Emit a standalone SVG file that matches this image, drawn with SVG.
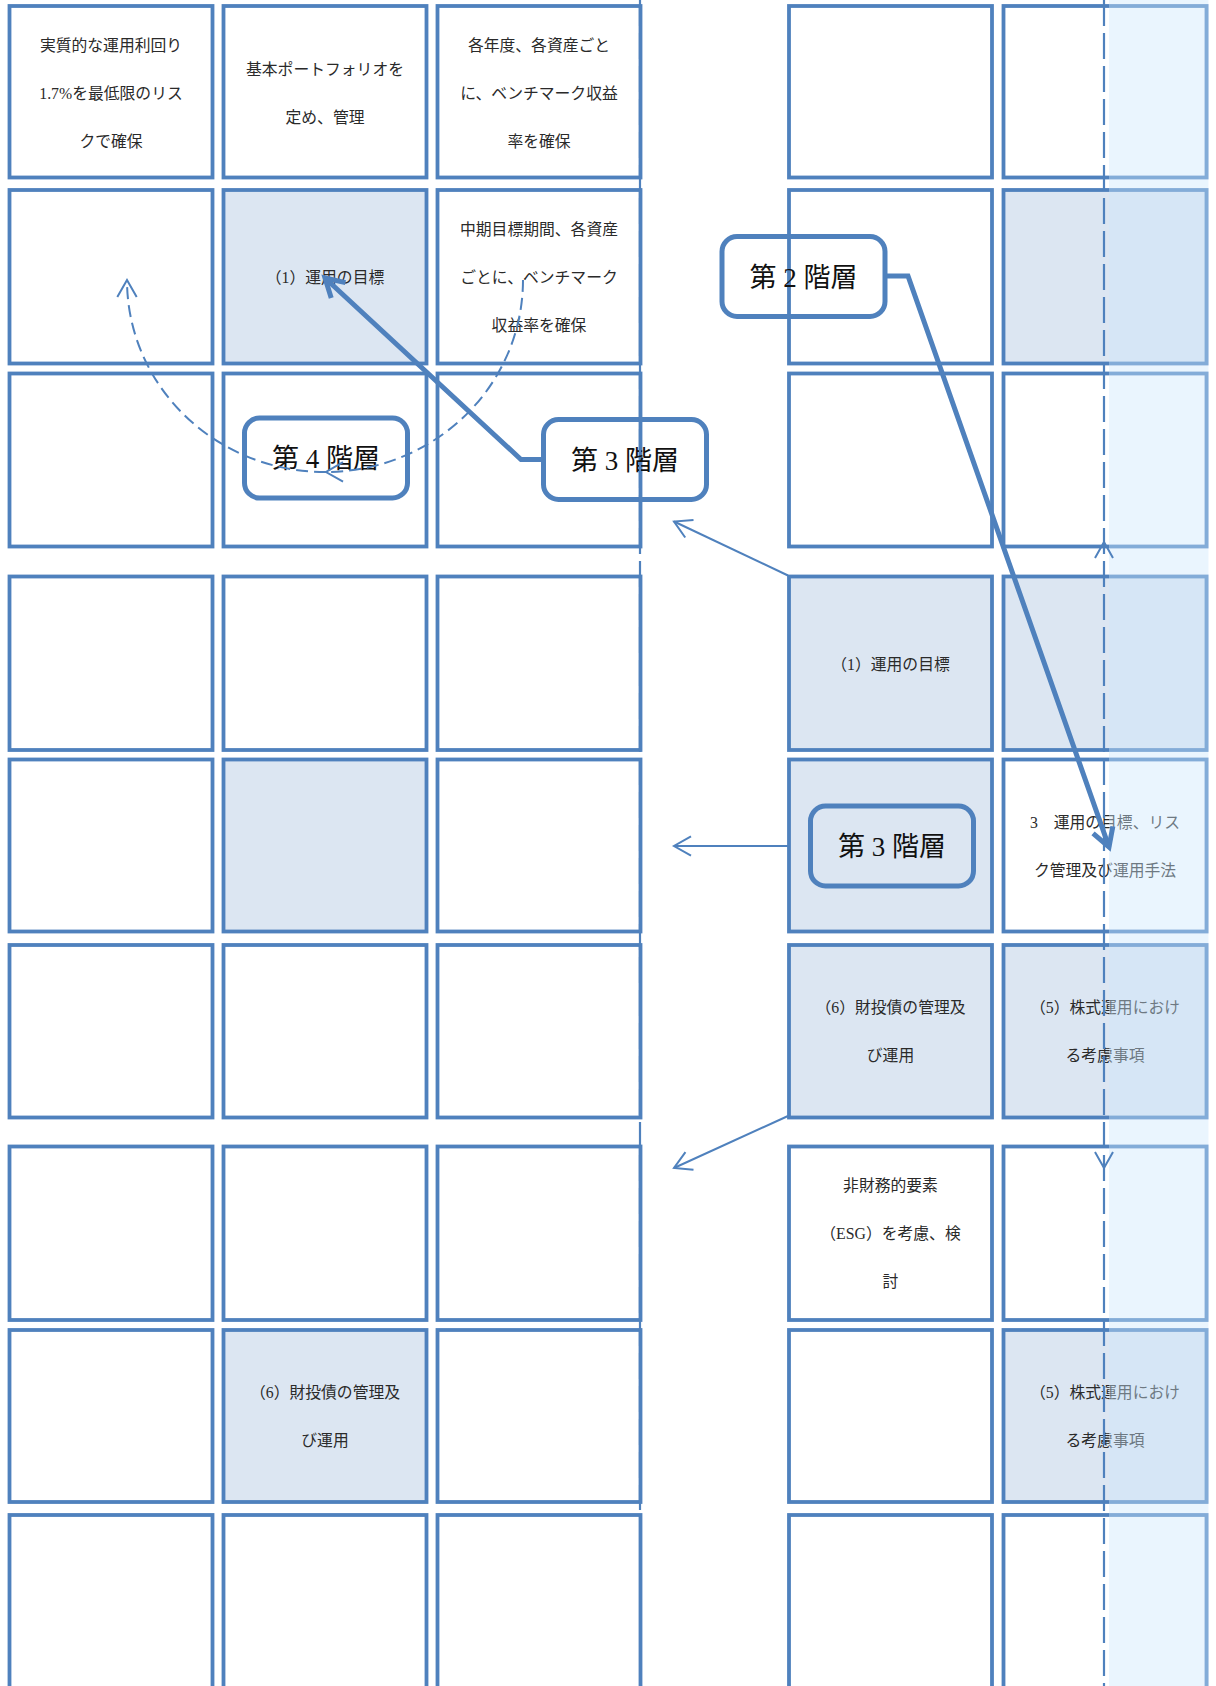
<svg xmlns="http://www.w3.org/2000/svg" width="1216" height="1686" viewBox="0 0 1216 1686">
<style>
.box{fill:#ffffff;stroke:#4F81BD;stroke-width:3.8}
.hl{fill:#DCE6F2}
.t{font-family:"Liberation Serif","Noto Sans CJK JP",serif;font-size:15.8px;fill:#2a2a2a;text-anchor:middle}
.co{fill:none;stroke:#4F81BD;stroke-width:5}
.ct{font-family:"Liberation Serif","Noto Sans CJK JP",serif;font-size:27px;fill:#111111;text-anchor:middle}
.thick{fill:none;stroke:#4F81BD;stroke-width:5}
.thin{fill:none;stroke:#4F81BD;stroke-width:2}
.dash{fill:none;stroke:#4F81BD;stroke-width:2;stroke-dasharray:12 6}
.vdash{fill:none;stroke:#4F81BD;stroke-width:2.2;stroke-dasharray:26 7}
.head{fill:none;stroke:#4F81BD;stroke-width:2}
</style>
<defs>
<marker id="ahThick" markerUnits="userSpaceOnUse" viewBox="-25 -15 30 30" markerWidth="30" markerHeight="30" refX="0" refY="0" orient="auto" overflow="visible">
<path d="M-18.2,-10.5 L0,0 L-18.2,10.5" fill="none" stroke="#4F81BD" stroke-width="5" stroke-dasharray="none"/>
</marker>
<marker id="ahThin" markerUnits="userSpaceOnUse" viewBox="-20 -12 24 24" markerWidth="24" markerHeight="24" refX="0" refY="0" orient="auto" overflow="visible">
<path d="M-17,-9.7 L0,0 L-17,9.7" fill="none" stroke="#4F81BD" stroke-width="2" stroke-dasharray="none"/>
</marker>
</defs>

<g id="boxes">
<!-- row 1 -->
<g id="r1c1"><rect class="box" x="9.5" y="6" width="203" height="171.5"/>
<text class="t" x="111" y="50.5">実質的な運用利回り</text>
<text class="t" x="111" y="98.5">1.7%を最低限のリス</text>
<text class="t" x="111" y="146.5">クで確保</text></g>
<g id="r1c2"><rect class="box" x="223.5" y="6" width="203" height="171.5"/>
<text class="t" x="325" y="74.5">基本ポートフォリオを</text>
<text class="t" x="325" y="122.5">定め、管理</text></g>
<g id="r1c3"><rect class="box" x="437.5" y="6" width="203" height="171.5"/>
<text class="t" x="539" y="50.5">各年度、各資産ごと</text>
<text class="t" x="539" y="98.5">に、ベンチマーク収益</text>
<text class="t" x="539" y="146.5">率を確保</text></g>
<g id="r1c4"><rect class="box" x="789" y="6" width="203" height="171.5"/></g>
<g id="r1c5"><rect class="box" x="1003.5" y="6" width="203" height="171.5"/></g>
<!-- row 2 -->
<g id="r2c1"><rect class="box" x="9.5" y="190" width="203" height="173.5"/></g>
<g id="r2c2"><rect class="box hl" x="223.5" y="190" width="203" height="173.5"/>
<text class="t" x="325" y="283">（1）運用の目標</text></g>
<g id="r2c3"><rect class="box" x="437.5" y="190" width="203" height="173.5"/>
<text class="t" x="539" y="235">中期目標期間、各資産</text>
<text class="t" x="539" y="283">ごとに、ベンチマーク</text>
<text class="t" x="539" y="331">収益率を確保</text></g>
<g id="r2c4"><rect class="box" x="789" y="190" width="203" height="173.5"/></g>
<g id="r2c5"><rect class="box hl" x="1003.5" y="190" width="203" height="173.5"/></g>
<!-- row 3 -->
<g id="r3c1"><rect class="box" x="9.5" y="373.5" width="203" height="173"/></g>
<g id="r3c2"><rect class="box" x="223.5" y="373.5" width="203" height="173"/></g>
<g id="r3c3"><rect class="box" x="437.5" y="373.5" width="203" height="173"/></g>
<g id="r3c4"><rect class="box" x="789" y="373.5" width="203" height="173"/></g>
<g id="r3c5"><rect class="box" x="1003.5" y="373.5" width="203" height="173"/></g>
<!-- row 4 -->
<g id="r4c1"><rect class="box" x="9.5" y="576.5" width="203" height="173.5"/></g>
<g id="r4c2"><rect class="box" x="223.5" y="576.5" width="203" height="173.5"/></g>
<g id="r4c3"><rect class="box" x="437.5" y="576.5" width="203" height="173.5"/></g>
<g id="r4c4"><rect class="box hl" x="789" y="576.5" width="203" height="173.5"/>
<text class="t" x="890.5" y="669.5">（1）運用の目標</text></g>
<g id="r4c5"><rect class="box hl" x="1003.5" y="576.5" width="203" height="173.5"/></g>
<!-- row 5 -->
<g id="r5c1"><rect class="box" x="9.5" y="759.5" width="203" height="172"/></g>
<g id="r5c2"><rect class="box hl" x="223.5" y="759.5" width="203" height="172"/></g>
<g id="r5c3"><rect class="box" x="437.5" y="759.5" width="203" height="172"/></g>
<g id="r5c4"><rect class="box hl" x="789" y="759.5" width="203" height="172"/></g>
<g id="r5c5"><rect class="box" x="1003.5" y="759.5" width="203" height="172"/>
<text class="t" x="1105" y="828">3　運用の目標、リス</text>
<text class="t" x="1105" y="876">ク管理及び運用手法</text></g>
<!-- row 6 -->
<g id="r6c1"><rect class="box" x="9.5" y="945" width="203" height="172.5"/></g>
<g id="r6c2"><rect class="box" x="223.5" y="945" width="203" height="172.5"/></g>
<g id="r6c3"><rect class="box" x="437.5" y="945" width="203" height="172.5"/></g>
<g id="r6c4"><rect class="box hl" x="789" y="945" width="203" height="172.5"/>
<text class="t" x="890.5" y="1013">（6）財投債の管理及</text>
<text class="t" x="890.5" y="1061">び運用</text></g>
<g id="r6c5"><rect class="box hl" x="1003.5" y="945" width="203" height="172.5"/>
<text class="t" x="1105" y="1013">（5）株式運用におけ</text>
<text class="t" x="1105" y="1061">る考慮事項</text></g>
<!-- row 7 -->
<g id="r7c1"><rect class="box" x="9.5" y="1146.5" width="203" height="173.5"/></g>
<g id="r7c2"><rect class="box" x="223.5" y="1146.5" width="203" height="173.5"/></g>
<g id="r7c3"><rect class="box" x="437.5" y="1146.5" width="203" height="173.5"/></g>
<g id="r7c4"><rect class="box" x="789" y="1146.5" width="203" height="173.5"/>
<text class="t" x="890.5" y="1191">非財務的要素</text>
<text class="t" x="890.5" y="1239">（ESG）を考慮、検</text>
<text class="t" x="890.5" y="1287">討</text></g>
<g id="r7c5"><rect class="box" x="1003.5" y="1146.5" width="203" height="173.5"/></g>
<!-- row 8 -->
<g id="r8c1"><rect class="box" x="9.5" y="1330" width="203" height="172"/></g>
<g id="r8c2"><rect class="box hl" x="223.5" y="1330" width="203" height="172"/>
<text class="t" x="325" y="1398">（6）財投債の管理及</text>
<text class="t" x="325" y="1446">び運用</text></g>
<g id="r8c3"><rect class="box" x="437.5" y="1330" width="203" height="172"/></g>
<g id="r8c4"><rect class="box" x="789" y="1330" width="203" height="172"/></g>
<g id="r8c5"><rect class="box hl" x="1003.5" y="1330" width="203" height="172"/>
<text class="t" x="1105" y="1398">（5）株式運用におけ</text>
<text class="t" x="1105" y="1446">る考慮事項</text></g>
<!-- row 9 -->
<g id="r9c1"><rect class="box" x="9.5" y="1515" width="203" height="173"/></g>
<g id="r9c2"><rect class="box" x="223.5" y="1515" width="203" height="173"/></g>
<g id="r9c3"><rect class="box" x="437.5" y="1515" width="203" height="173"/></g>
<g id="r9c4"><rect class="box" x="789" y="1515" width="203" height="173"/></g>
<g id="r9c5"><rect class="box" x="1003.5" y="1515" width="203" height="173"/></g>
</g>

<g id="callouts">
<g id="layer2"><rect class="co" x="722" y="236.5" width="163" height="80" rx="15"/>
<text class="ct" x="803.5" y="286.5">第 2 階層</text></g>
<g id="layer3a"><rect class="co" x="543.5" y="419.5" width="163" height="80" rx="15"/>
<text class="ct" x="625" y="469.5">第 3 階層</text></g>
<g id="layer4"><rect class="co" x="244.5" y="418" width="163" height="80" rx="15"/>
<text class="ct" x="326" y="468">第 4 階層</text></g>
<g id="layer3b"><rect class="co" x="810.5" y="806" width="163" height="80" rx="15"/>
<text class="ct" x="892" y="856">第 3 階層</text></g>
</g>

<rect id="overlay" x="1109" y="0" width="99.5" height="1686" fill="#CCE6FC" opacity="0.42"/>

<g id="connectors">
<path class="vdash" d="M640,0 V1510"/>
<path class="vdash" d="M1104,0 V1686"/>
<path class="head" d="M1095,558 L1104,542 L1113,558"/>
<path class="head" d="M1095,1152 L1104,1168 L1113,1152"/>
<path class="thick" d="M543.5,459.5 L521,459.5 L325,278" marker-end="url(#ahThick)"/>
<path class="thick" d="M885,276 L908,276 L1109,847" marker-end="url(#ahThick)"/>
<path class="dash" d="M523,280 A198,192 0 0 1 326,472" marker-end="url(#ahThin)"/>
<path class="dash" d="M326,472 A198,192 0 0 1 127,280" marker-end="url(#ahThin)"/>
<path class="thin" d="M788,575.5 L674,521.5" marker-end="url(#ahThin)"/>
<path class="thin" d="M788,846 L674,846" marker-end="url(#ahThin)"/>
<path class="thin" d="M788,1116 L674,1168" marker-end="url(#ahThin)"/>
</g>
</svg>
